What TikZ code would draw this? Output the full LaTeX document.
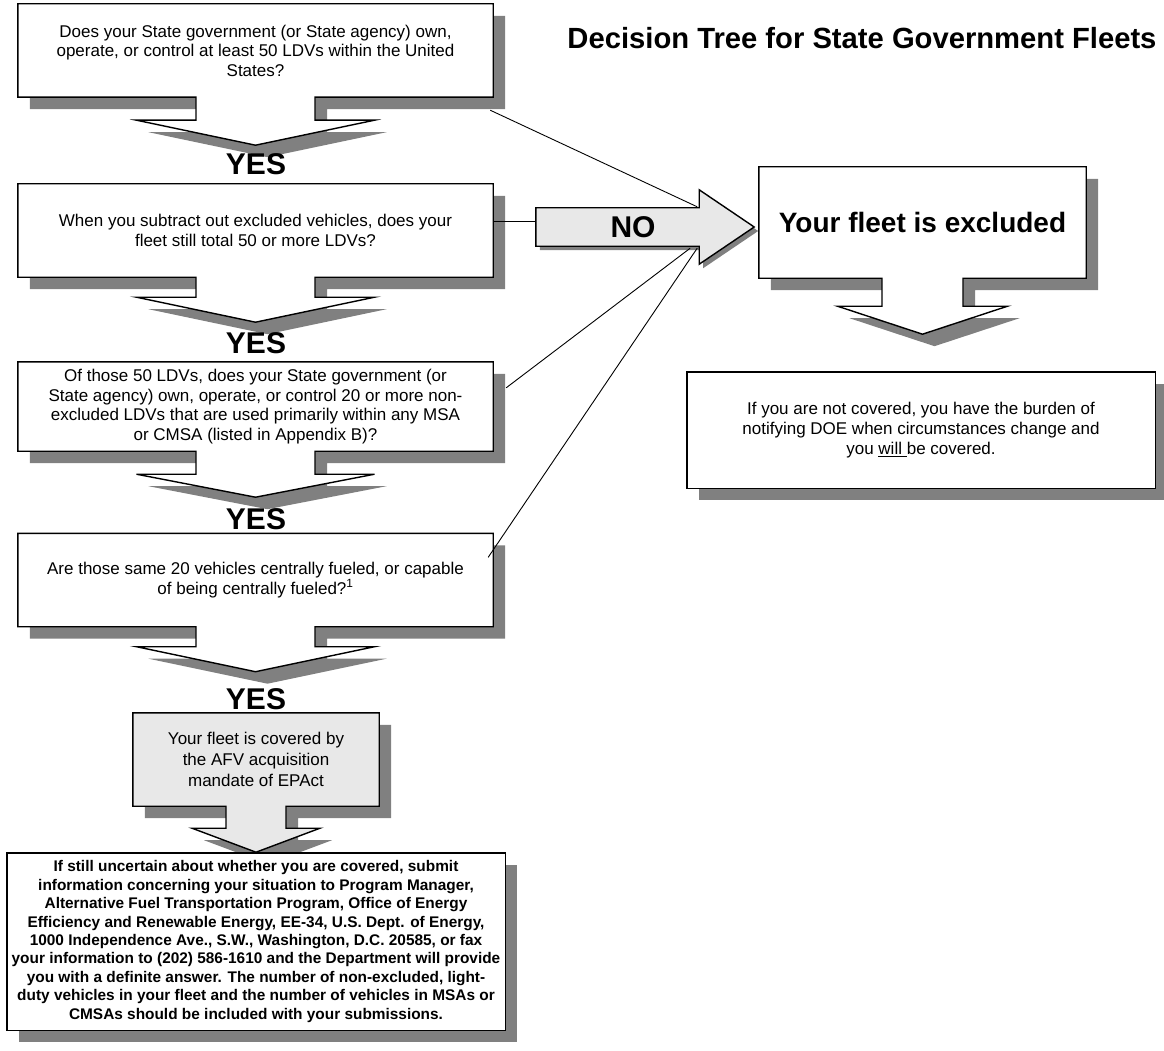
\documentclass[tikz,border=0pt]{standalone}
\usepackage{fontspec}
\setmainfont{Liberation Sans}
\usetikzlibrary{calc, backgrounds}

\newcommand{\bodyfont}{\fontsize{17}{19.5}\selectfont}
\newcommand{\bigfont}{\fontsize{30}{30}\selectfont\bfseries}

% box with a down arrow hung below it: node, fill, stem half width, wing half width, stem length, head length
\newcommand{\downcallout}[6]{%
  \draw[shadebox=#2] (#1.north west) -- (#1.north east) -- (#1.south east)
    -- ($(#1.south)+(#3,0)$) -- ++(0,#5) -- ++({#4-#3},0)
    -- ($(#1.south)+(0,#5+#6)$) -- ($(#1.south)+(-#4,#5)$) -- ++({#4-#3},0)
    -- ($(#1.south)+(-#3,0)$) -- (#1.south west) -- cycle;}

\begin{document}
\begin{tikzpicture}[
        x=1pt, y=-1pt,
        ask/.style={rectangle, minimum width=475pt, minimum height=93pt, inner sep=0pt, align=center, font=\bodyfont},
        yes/.style={inner sep=0pt, font=\bigfont},
        shadebox/.style={draw=black, line width=1.4pt, fill=#1,
            preaction={fill=black!50, transform canvas={xshift=12pt, yshift=-12pt}}},
        noarrow/.style={draw=black, line width=1.4pt, fill=black!9,
            preaction={fill=black!50, transform canvas={xshift=4pt, yshift=-4pt}}},
        link/.style={draw=black, line width=0.9pt}
    ]
        \useasboundingbox (0,0) rectangle (1164,1051);
        \node[font=\fontsize{29.2}{29.2}\selectfont\bfseries] (title) at (862,38) {Decision Tree for State Government Fleets};

        \node[ask] (q1) at (255.5,50.5) {Does your State government (or State agency) own,\\operate, or control at least 50 LDVs within the United\\States?};
        \node[ask] (q2) at (255.5,230.5) {When you subtract out excluded vehicles, does your\\fleet still total 50 or more LDVs?};
        \node[ask, minimum height=89pt] (q3) at (255.5,406.5) {Of those 50 LDVs, does your State government (or\\State agency) own, operate, or control 20 or more non-\\excluded LDVs that are used primarily within any MSA\\or CMSA (listed in Appendix B)?};
        \node[ask] (q4) at (255.5,580) {Are those same 20 vehicles centrally fueled, or capable\\of being centrally fueled?\textsuperscript{1}};

        \node[yes] (y1) at (256,164) {YES};
        \node[yes] (y2) at (256,343.5) {YES};
        \node[yes] (y3) at (256,519) {YES};
        \node[yes] (y4) at (256,699) {YES};

        \node[ask, minimum width=246pt, minimum height=93pt, font=\fontsize{17}{21}\selectfont] (cov) at (256,759.5) {Your fleet is covered by\\the AFV acquisition\\mandate of EPAct};
        \node[ask, minimum width=498pt, minimum height=177pt, font=\fontsize{15.4}{18.4}\selectfont\bfseries] (note) at (256,941.5) {If still uncertain about whether you are covered, submit\\information concerning your situation to Program Manager,\\Alternative Fuel Transportation Program, Office of Energy\\Efficiency and Renewable Energy, EE-34, U.S. Dept. of Energy,\\1000 Independence Ave., S.W., Washington, D.C. 20585, or fax\\your information to (202) 586-1610 and the Department will provide\\you with a definite answer. The number of non-excluded, light-\\duty vehicles in your fleet and the number of vehicles in MSAs or\\CMSAs should be included with your submissions.};

        \node[ask, minimum width=327pt, minimum height=111pt, font=\fontsize{28}{28}\selectfont\bfseries] (excl) at (922.5,222.5) {Your fleet is excluded};
        \node[ask, minimum width=468pt, minimum height=116pt, font=\fontsize{17}{20}\selectfont] (notcov) at (921,430) {If you are not covered, you have the burden of\\notifying DOE when circumstances change and\\you \underline{will\ }be covered.};

        \node[minimum width=163pt, minimum height=38pt, inner sep=0pt] (no) at (617.5,227) {};
        \node[yes] (notext) at (633,227) {NO};

        \begin{scope}[on background layer]
            \downcallout{q1}{white}{59.5}{119}{23}{25}
            \downcallout{q2}{white}{59.5}{119}{20}{25}
            \downcallout{q3}{white}{59.5}{119}{23}{23}
            \downcallout{q4}{white}{59.5}{119}{20}{25}
            \downcallout{cov}{black!9}{30}{64}{22}{24}
            \downcallout{excl}{white}{40.5}{85}{28}{28}
            \draw[shadebox=white] (note.north west) rectangle (note.south east);
            \draw[shadebox=white] (notcov.north west) rectangle (notcov.south east);
            \draw[noarrow] (no.north west) -- (no.north east) -- ++(0,-18) -- ($(no.east)+(55,0)$)
                -- ($(no.south east)+(0,18)$) -- (no.south east) -- (no.south west) -- cycle;
        \end{scope}

        \coordinate (j1) at ($(no.north east)+(-2,-1)$);
        \coordinate (j2) at ($(no.west)+(0,-6)$);
        \coordinate (j3) at ($(no.south east)+(-9,2)$);
        \coordinate (j4) at ($(no.south east)+(-2,2)$);
        \draw[link] (j2 -| q2.east) -- (j2);
        \draw[link] ($(q1.south east)+(-3,13)$) -- (j1);
        \draw[link] ($(q3.north east)+(13,26)$) -- (j3);
        \draw[link] ($(q4.north east)+(-5,24)$) -- (j4);
\end{tikzpicture}
\end{document}
